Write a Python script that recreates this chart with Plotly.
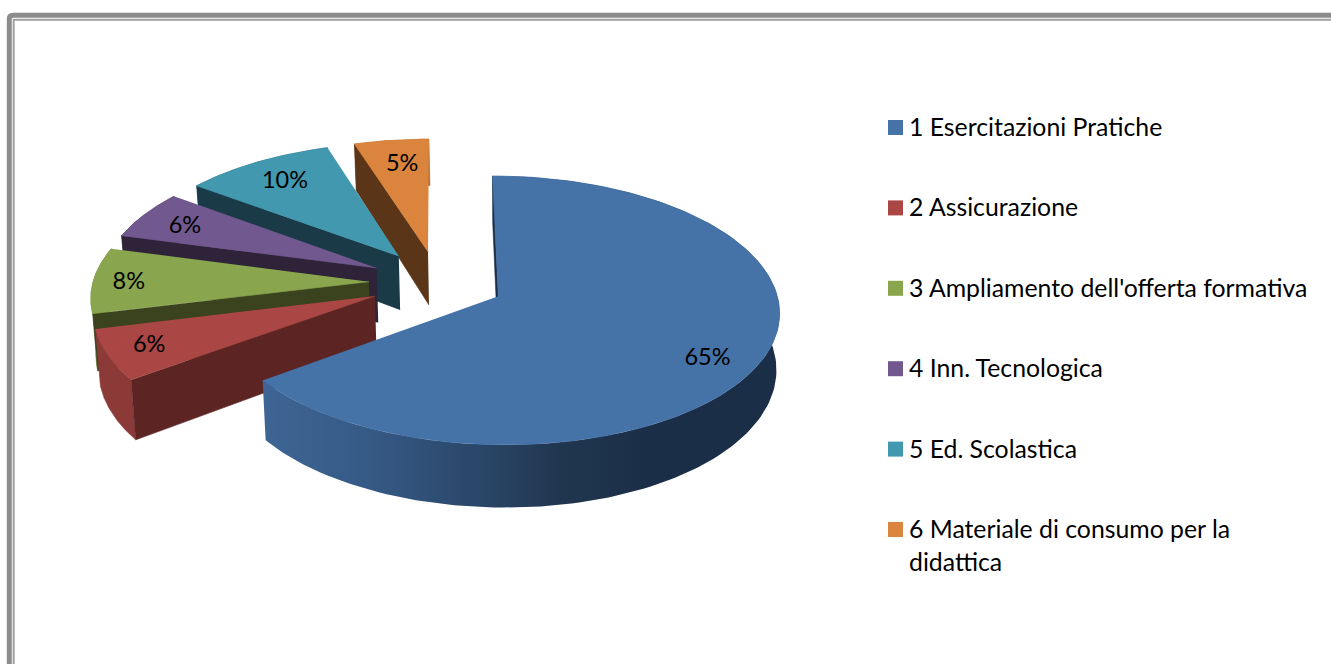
import numpy as np
import plotly.graph_objects as go

# ---- data ----
CATEGORIES = ["1 Esercitazioni Pratiche", "2 Assicurazione", "3 Ampliamento dell'offerta formativa",
              "4 Inn. Tecnologica", "5 Ed. Scolastica", "6 Materiale di consumo per la<br>didattica"]
VALUES = [64.9, 6.2, 8.1, 6.0, 9.9, 4.9]
TOP_COLORS = ["#4572A7", "#AA4643", "#89A54E", "#71588F", "#4198AF", "#DB843D"]
ARC_COLORS = ["#2a4566", "#8c3a38", "#6d843c", "#4a3a60", "#2a6475", "#a8642c"]
CUT_COLORS = ["#1b2e47", "#5c2423", "#3a421e", "#2e2338", "#1a3a47", "#5a3517"]

# ---- projection settings for the tilted, exploded pie ----
CX, CY, RX, RY, PERSP = 438.0, 282.0, 276.0, 130.0, 0.103
EXPLODE = [0.242, 0.25, 0.25, 0.25, 0.25, 0.242]
DEPTH, DEPTH_TILT, SHRINK, SHRINK_CX = 55.0, 7.0, 0.988, 510.0
LABEL_RADIUS = [0.92, 0.80, 0.85, 0.77, 0.73, 0.60]
LABEL_SHIFT = [(-33, 5), (-14, 3), (-6, 2), (-11, 1), (-8, -4), (-3, -17)]
DRAW_ORDER = [5, 4, 3, 2, 1, 0]
FONT = "Lato"
LABEL_SIZE = 23.5
LEGEND_SIZE = 24.8


def top(X, Y):
    s = 1.0 / (1.0 + PERSP * Y)
    return CX + RX * X * s, CY - RY * Y * s


def bottom(X, Y):
    x, y = top(X, Y)
    return SHRINK_CX + (x - SHRINK_CX) * SHRINK, y + DEPTH - DEPTH_TILT * Y


def disc(t, r, ax, ay):
    return ax + r * np.sin(t), ay + r * np.cos(t)


fractions = np.array(VALUES) / sum(VALUES)
edges = np.concatenate([[0], np.cumsum(fractions)]) * 2 * np.pi
fig = go.Figure()


def poly(x, y, color=None, gradient=None):
    if gradient:
        kw = dict(fillgradient=gradient, line=dict(width=0))
    else:
        kw = dict(fillcolor=color, line=dict(width=0.6, color=color))
    fig.add_trace(go.Scatter(x=list(x), y=list(y), mode="lines", fill="toself",
                             hoverinfo="skip", showlegend=False, **kw))


for i in DRAW_ORDER:
    a, b = edges[i], edges[i + 1]
    mid = (a + b) / 2
    ax, ay = EXPLODE[i] * np.sin(mid), EXPLODE[i] * np.cos(mid)
    t = np.linspace(a, b, 160)
    X, Y = disc(t, 1.0, ax, ay)
    tx, ty = top(X, Y)
    bx, by = bottom(X, Y)
    # outer rim
    grad = None
    if i == 0:
        grad = dict(type="horizontal", colorscale=[[0, "#3e6594"], [0.2, "#365a86"], [0.42, "#2a4668"],
                                                   [0.58, "#20364f"], [0.75, "#1b2e47"], [1, "#1b2e47"]])
    poly(np.r_[tx, bx[::-1]], np.r_[ty, by[::-1]], ARC_COLORS[i], grad)
    # the cut faces that look towards the viewer
    ox, oy = top(ax, ay)
    px, py = bottom(ax, ay)
    if np.sin(a) <= 1e-9:
        poly([ox, tx[0], bx[0], px], [oy, ty[0], by[0], py], CUT_COLORS[i])
    if np.sin(b) > 1e-9:
        poly([ox, tx[-1], bx[-1], px], [oy, ty[-1], by[-1], py], CUT_COLORS[i])
    # upper face
    poly(np.r_[ox, tx], np.r_[oy, ty], TOP_COLORS[i])

for i in DRAW_ORDER:
    mid = (edges[i] + edges[i + 1]) / 2
    ax, ay = EXPLODE[i] * np.sin(mid), EXPLODE[i] * np.cos(mid)
    lx, ly = top(*disc(mid, LABEL_RADIUS[i], ax, ay))
    fig.add_trace(go.Scatter(x=[lx + LABEL_SHIFT[i][0]], y=[ly + LABEL_SHIFT[i][1]], mode="text",
                             text=[f"{round(VALUES[i])}%"],
                             textfont=dict(family=FONT, size=LABEL_SIZE, color="#000000"),
                             hoverinfo="skip", showlegend=False))

# legend
ROW0, ROW_STEP = 127.5, 80.4
for i, name in enumerate(CATEGORIES):
    y = ROW0 + ROW_STEP * i
    fig.add_trace(go.Scatter(x=[895.5], y=[y], mode="markers",
                             marker=dict(symbol="square", size=15, color=TOP_COLORS[i], line=dict(width=0)),
                             hoverinfo="skip", showlegend=False))
    for j, line in enumerate(name.split("<br>")):
        fig.add_annotation(x=910, y=y + 33 * j - 1, text=line, showarrow=False, xanchor="left", yanchor="middle",
                           xshift=-3, font=dict(family=FONT, size=LEGEND_SIZE, color="#000000"))

fig.update_layout(
    width=1331, height=664, margin=dict(l=0, r=0, t=0, b=0), autosize=False,
    paper_bgcolor="#ffffff", plot_bgcolor="#ffffff", showlegend=False,
    xaxis=dict(range=[0, 1331], visible=False, fixedrange=True),
    yaxis=dict(range=[664, 0], visible=False, fixedrange=True),
    shapes=[
        dict(type="path", path="M 9.3 700 L 9.3 19 Q 9.3 15.3 13 15.3 L 1400 15.3",
             line=dict(color="#8c8c8c", width=5), layer="below"),
        dict(type="path", path="M 13.7 700 L 13.7 19.7 L 1400 19.7",
             line=dict(color="#a0a0a0", width=2), layer="below"),
    ],
)
fig.write_html("out.html", config=dict(displayModeBar=False),
               post_script="document.body.style.margin='0';document.documentElement.style.overflow='hidden';")
